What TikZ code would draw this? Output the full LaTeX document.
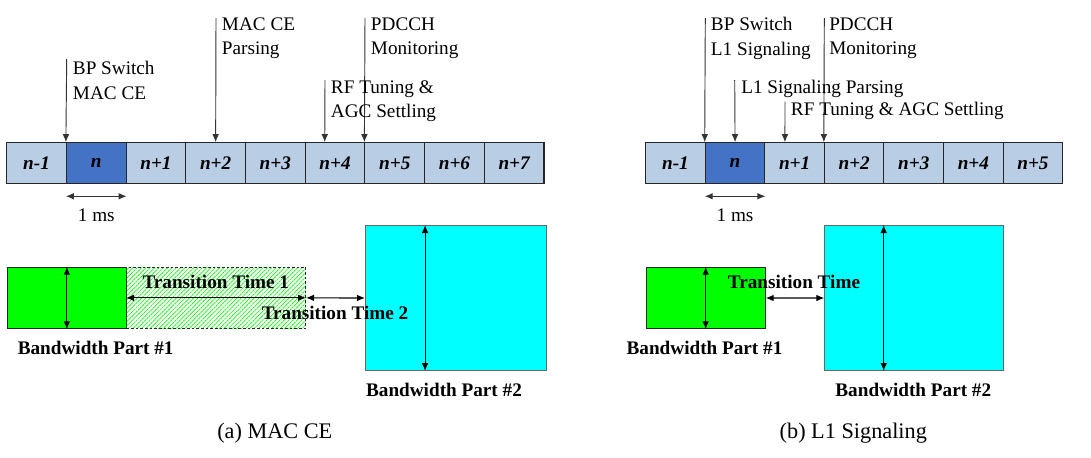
\documentclass[tikz,border=0pt]{standalone}
\usepackage{fontspec}
\setmainfont{Liberation Serif}
\usetikzlibrary{arrows.meta,calc,patterns.meta}

\definecolor{slotlight}{RGB}{185,205,229}
\definecolor{slotdark}{RGB}{68,114,196}
\definecolor{bwpgreen}{RGB}{0,255,0}
\definecolor{bwpcyan}{RGB}{0,255,255}
\newcommand\picsize{\fontsize{14.4}{18.5}\selectfont}
\newcommand\capsize{\fontsize{16.7}{20}\selectfont}

\tikzset{
  slot/.style={draw=black!85, line width=0.8pt, minimum width=44.75pt,
    minimum height=30.5pt, inner sep=0pt, font=\picsize\bfseries\itshape},
  note/.style={align=left, anchor=west, inner sep=0pt, font=\picsize},
  marker/.style={draw=black!80, line width=0.7pt, -{Latex[length=6pt,width=5pt]}},
  span/.style={line width=0.85pt,
    {Latex[length=6pt,width=5pt]}-{Latex[length=6pt,width=5pt]}},
  bwp/.style={draw=black!85, line width=0.75pt, inner sep=0pt, anchor=north west},
  tlabel/.style={font=\picsize\bfseries, inner sep=0pt},
}

\begin{document}
\begin{tikzpicture}[x=0.75pt,y=-0.75pt,font=\picsize]
\useasboundingbox (0,0) rectangle (1091,457);

% (a) MAC CE: slots
\foreach \lab/\col [count=\i from 0] in {n-1/slotlight,n/slotdark,n+1/slotlight,
    n+2/slotlight,n+3/slotlight,n+4/slotlight,n+5/slotlight,n+6/slotlight,n+7/slotlight}
  \node[slot, fill=\col] (a\i) at ({36.55+59.7*\i},163) {\lab};

\coordinate (aBP) at (66.7,59);
\coordinate (aParse) at (216,18);
\coordinate (aRF) at (325,80);
\coordinate (aPD) at (365,18);
\draw[marker] (aBP) -- (a1.north west);
\draw[marker] (aParse) -- (a3.north);
\draw[marker] (aRF) -- ($(a5.north west)!0.33!(a5.north east)$);
\draw[marker] (aPD) -- (a6.north west);
\node[note] (nBP) at (72.7,80.3) {BP Switch\\MAC CE};
\node[note] (nParse) at (221.7,38.3) {MAC CE\\Parsing};
\node[note] (nRF) at (330.7,101.3) {RF Tuning \&\\AGC Settling};
\node[note] (nPD) at (370.7,38.3) {PDCCH\\Monitoring};

\draw[span, draw=black!80] ([yshift=-9.3pt]a1.south west) -- ([yshift=-9.3pt]a1.south east);
\node (msa) at (96.3,215) {1 ms};

% (a) MAC CE: bandwidth parts
\node[bwp, fill=bwpgreen, minimum width=89.5pt, minimum height=46.2pt] (g1) at (6.7,266.7) {};
\node[bwp, line width=0.6pt, dash pattern=on 2pt off 1.5pt,
  pattern={Lines[angle=45,distance=2.3pt,line width=0.5pt]}, pattern color=bwpgreen,
  minimum width=134.5pt, minimum height=46.2pt] (h1) at (126,266.7) {};
\node[bwp, fill=bwpcyan, draw=black!60, minimum width=135.75pt, minimum height=108.75pt] (cy1) at (365,225) {};

\draw[span] (g1.north) -- (g1.south);
\draw[span] (h1.west) -- (h1.east);
\draw[span] (h1.east) -- (cy1.west);
\draw[span] ($(cy1.north west)!0.33!(cy1.north east)$) -- ($(cy1.south west)!0.33!(cy1.south east)$);

\node[tlabel] (tt1) at (215.8,281.7) {Transition Time 1};
\node[tlabel] (tt2) at (335,312.7) {Transition Time 2};
\node[tlabel] (bwa1) at (95.7,348.3) {Bandwidth Part \#1};
\node[tlabel] (bwa2) at (444,390) {Bandwidth Part \#2};
\node[font=\capsize] (capa) at (274.8,432.7) {(a) MAC CE};

% (b) L1 Signaling: slots
\foreach \lab/\col [count=\i from 0] in {n-1/slotlight,n/slotdark,n+1/slotlight,
    n+2/slotlight,n+3/slotlight,n+4/slotlight,n+5/slotlight}
  \node[slot, fill=\col] (b\i) at ({675.5+59.57*\i},163) {\lab};

\coordinate (bBP) at (705.3,18);
\coordinate (bPD) at (824.3,18);
\coordinate (bParse) at (734.7,80);
\coordinate (bRF) at (785,101.7);
\draw[marker] (bBP) -- (b1.north west);
\draw[marker] (bPD) -- (b3.north west);
\draw[marker] (bParse) -- (b1.north);
\draw[marker] (bRF) -- ($(b2.north west)!0.34!(b2.north east)$);
\node[note] (mBP) at (710.7,38.3) {BP Switch\\L1 Signaling};
\node[note] (mPD) at (829,38.3) {PDCCH\\Monitoring};
\node[note] (mParse) at (741,89.3) {L1 Signaling Parsing};
\node[note] (mRF) at (790.7,110.7) {RF Tuning \& AGC Settling};

\draw[span, draw=black!80] ([yshift=-9.3pt]b1.south west) -- ([yshift=-9.3pt]b1.south east);
\node (msb) at (735,215) {1 ms};

% (b) L1 Signaling: bandwidth parts
\node[bwp, fill=bwpgreen, minimum width=89.25pt, minimum height=46.2pt] (g2) at (645.7,266.7) {};
\node[bwp, fill=bwpcyan, draw=black!60, minimum width=134.25pt, minimum height=108.75pt] (cy2) at (824.3,225) {};

\draw[span] (g2.north) -- (g2.south);
\draw[span] (g2.east) -- (cy2.west);
\draw[span] ($(cy2.north west)!0.33!(cy2.north east)$) -- ($(cy2.south west)!0.33!(cy2.south east)$);

\node[tlabel] (tt) at (794,281.7) {Transition Time};
\node[tlabel] (bwb1) at (704.5,348.3) {Bandwidth Part \#1};
\node[tlabel] (bwb2) at (913.3,390) {Bandwidth Part \#2};
\node[font=\capsize] (capb) at (853.3,432.7) {(b) L1 Signaling};
\end{tikzpicture}
\end{document}
